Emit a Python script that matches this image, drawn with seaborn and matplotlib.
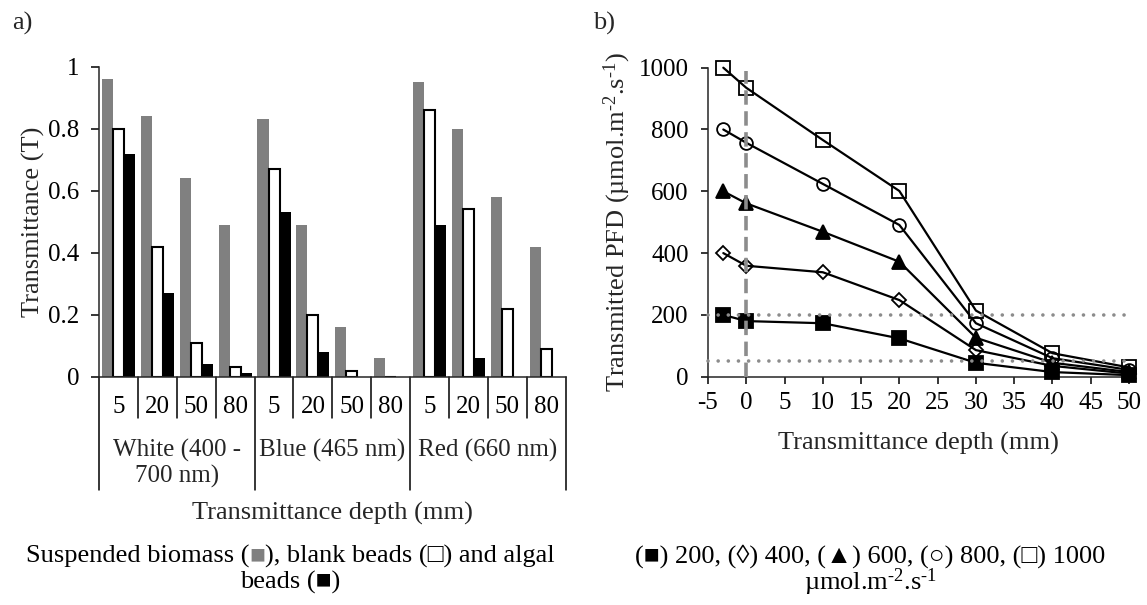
import numpy as np
import pandas as pd
import matplotlib
matplotlib.use("Agg")
import matplotlib.pyplot as plt
import seaborn as sns

# ---------------- data ----------------
groups = ["White (400 -\n700 nm)", "Blue (465 nm)", "Red (660 nm)"]
depths = ["5", "20", "50", "80"]
series_a = ["Suspended biomass", "Blank beads", "Algal beads"]
suspended = [0.96, 0.84, 0.64, 0.49, 0.83, 0.49, 0.16, 0.06, 0.95, 0.80, 0.58, 0.42]
blank = [0.80, 0.42, 0.11, 0.03, 0.67, 0.20, 0.02, 0.00, 0.86, 0.54, 0.22, 0.09]
algal = [0.72, 0.27, 0.04, 0.013, 0.53, 0.08, 0.00, 0.00, 0.49, 0.06, 0.00, 0.00]

depth_b = [-3, 0, 10, 20, 30, 40, 50]
pfd_200 = [200, 180, 173, 124, 45, 15, 5]
pfd_400 = [400, 359, 338, 248, 86, 35, 10]
pfd_600 = [600, 561, 469, 372, 126, 45, 15]
pfd_800 = [800, 757, 624, 491, 173, 60, 22]
pfd_1000 = [1000, 935, 766, 601, 214, 76, 30]
thresholds = [200, 50]
yticks_a = [0, 0.2, 0.4, 0.6, 0.8, 1.0]
yticklabels_a = ["0", "0.2", "0.4", "0.6", "0.8", "1"]

# ---------------- style ----------------
sns.set_style("ticks")
FAM = ["Liberation Serif", "DejaVu Sans"]
plt.rcParams["font.family"] = FAM
plt.rcParams["mathtext.fontset"] = "custom"
plt.rcParams["mathtext.rm"] = "Liberation Serif"
plt.rcParams["mathtext.it"] = "Liberation Serif:italic"
plt.rcParams["mathtext.bf"] = "Liberation Serif:bold"
plt.rcParams["axes.unicode_minus"] = False
FS = 18      # tick labels
FT = 19      # titles / captions
plt.rcParams["font.size"] = FS
plt.rcParams["axes.linewidth"] = 1.1
plt.rcParams["xtick.color"] = "black"
plt.rcParams["ytick.color"] = "black"

W, H = 1147, 605
fig = plt.figure(figsize=(W / 100, H / 100), dpi=100)

def fx(px):
    return px / W

def fy(py):
    return 1 - py / H

SUP2 = r"$^{\text{-2}}$"
SUP1 = r"$^{\text{-1}}$"

# ---------------- panel a ----------------
ax1 = fig.add_axes([fx(99), fy(376.7), 466.7 / W, 310 / H])
cats = [f"{g}|{d}" for g in groups for d in depths]
df = pd.DataFrame({
    "cat": cats * 3,
    "value": suspended + blank + algal,
    "series": [s for s in series_a for _ in cats],
})
sns.barplot(data=df, x="cat", y="value", hue="series", order=cats,
            hue_order=series_a, palette=["#808080", "#ffffff", "#000000"],
            width=0.85, saturation=1, errorbar=None, legend=False,
            linewidth=0, ax=ax1)
for i, cont in enumerate(ax1.containers):
    for p in cont:
        if i == 1:
            p.set_edgecolor("black")
            p.set_linewidth(1.5)
        else:
            p.set_linewidth(0)

ax1.set_ylim(0, 1)
ax1.set_yticks(yticks_a)
ax1.set_yticklabels(yticklabels_a)
ax1.set_xticks(range(len(cats)))
ax1.set_xticklabels([c.split("|")[1] for c in cats])
ax1.tick_params(axis="x", length=0, pad=14, labelsize=FS)
ax1.tick_params(axis="y", length=6, width=1.1, pad=8, labelsize=FS, direction="out")
for s in ["top", "right"]:
    ax1.spines[s].set_visible(False)
ax1.set_xlim(-0.5, len(cats) - 0.5)
# multi-level category separators
xt = ax1.get_xaxis_transform()
for i in range(len(cats) + 1):
    major = (i % len(depths) == 0)
    ax1.plot([i - 0.5, i - 0.5], [0, -0.366 if major else -0.133], transform=xt,
             clip_on=False, color="black", lw=1.1)
for gi, g in enumerate(groups):
    ax1.text(gi * len(depths) + (len(depths) - 1) / 2, -0.2, g, transform=xt,
             ha="center", va="top", fontsize=FS, linespacing=1.2)
ax1.set_xlabel("Transmittance depth (mm)", fontsize=FT, va="center")
ax1.xaxis.set_label_coords(0.5, -0.44)
ax1.set_ylabel("Transmittance (T)", fontsize=FT, va="center")
ax1.yaxis.set_label_coords(-0.1414, 0.5)

# ---------------- panel b ----------------
ax2 = fig.add_axes([fx(708), fy(376.7), 421 / W, 309 / H])
lines_b = [
    (pfd_200, "s", "black", 9.5),
    (pfd_400, "D", "none", 7.2),
    (pfd_600, "^", "black", 10),
    (pfd_800, "o", "none", 9.2),
    (pfd_1000, "s", "none", 9.8),
]
for vals, mk, fc, ms in lines_b:
    sns.lineplot(x=depth_b, y=vals, ax=ax2, color="black", lw=1.6,
                 marker=mk, markersize=ms, markerfacecolor=fc,
                 markeredgecolor="black", markeredgewidth=1.3, zorder=3,
                 clip_on=False)
for t in thresholds:
    ax2.plot([-5, 49.5], [t, t], color="#8c8c8c", lw=2.6,
             linestyle=(0, (0.01, 2.8)), dash_capstyle="round", zorder=5,
             clip_on=False)
ax2.plot([0, 0], [0, 990], color="#8c8c8c", lw=2.6,
         linestyle=(0, (4, 1.8)), zorder=5, clip_on=False)
ax2.set_xlim(-5, 50)
ax2.set_ylim(0, 1000)
ax2.set_xticks(range(-5, 51, 5))
ax2.set_yticks(range(0, 1001, 200))
ax2.tick_params(axis="both", length=5, width=1.1, direction="out", labelsize=FS)
ax2.tick_params(axis="x", pad=6)
ax2.tick_params(axis="y", pad=9)
for s in ["top", "right"]:
    ax2.spines[s].set_visible(False)
ax2.set_xlabel("Transmittance depth (mm)", fontsize=FT, va="center")
ax2.xaxis.set_label_coords(0.5, -0.2146)
ax2.set_ylabel("Transmitted PFD (µmol.m" + SUP2 + ".s" + SUP1 + ")",
               fontsize=FT, va="center")
ax2.yaxis.set_label_coords(-0.216, 0.5)

# ---------------- panel letters ----------------
fig.text(fx(12), fy(23), "a)", fontsize=FT, ha="left", va="center")
fig.text(fx(593), fy(23), "b)", fontsize=FT, ha="left", va="center")

# ---------------- captions ----------------
def caption_row(parts, cx, cy):
    texts = [fig.text(0, fy(cy), s, color=c, fontsize=FT, ha="left",
                      va="center", family=FAM) for s, c in parts]
    fig.canvas.draw()
    r = fig.canvas.get_renderer()
    widths = [t.get_window_extent(r).width for t in texts]
    x = cx - sum(widths) / 2
    for t, w in zip(texts, widths):
        t.set_x(fx(x))
        x += w

caption_row([("Suspended biomass (", "black"), ("■", "#808080"),
             ("), blank beads (□) and algal", "black")], 290, 556)
caption_row([("beads (■)", "black")], 290, 582)
caption_row([("(■) 200, (◊) 400, (▲) 600, (○) 800, (□) 1000", "black")], 870, 556)
caption_row([("µmol.m" + SUP2 + ".s" + SUP1, "black")], 870, 582)

fig.savefig("out.png", dpi=100)
